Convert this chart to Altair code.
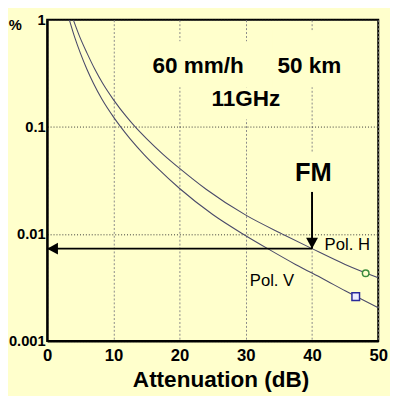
import altair as alt
import pandas as pd

# ---- data ----
h_att = [3.95, 5.0, 6.0, 7.2, 8.4, 10.0, 12.0, 13.3, 15.0, 17.5, 20.0, 24.0, 30.0, 35.8, 40.0, 45.0, 50.0]
h_pct = [1.0, 0.674, 0.491, 0.345, 0.254, 0.18, 0.124, 0.1, 0.0778, 0.0555, 0.041, 0.0262, 0.015, 0.0098, 0.0073, 0.0052, 0.0039]

v_att = [3.35, 4.2, 5.0, 6.0, 7.0, 8.3, 10.0, 11.1, 12.5, 14.6, 16.7, 20.0, 25.0, 29.8, 33.3, 37.5, 41.7, 45.0, 50.0]
v_pct = [1.0, 0.674, 0.491, 0.345, 0.254, 0.18, 0.124, 0.1, 0.0778, 0.0555, 0.041, 0.0266, 0.0152, 0.0098, 0.0073, 0.0052, 0.0038, 0.00295, 0.00205]

x_ticks = [0, 10, 20, 30, 40, 50]
y_ticks = [0.001, 0.01, 0.1, 1]

fm_att = 40
fm_pct = 0.0073
fm_top = 0.0247

marker_h = (48.1, 0.0043)
marker_v = (46.6, 0.0026)

big_texts = ["60 mm/h", "50 km", "11GHz"]
big_att = [22.8, 39.6, 30.0]
big_pct = [0.372, 0.372, 0.182]

fm_text = ["FM"]
fm_text_att = [40.2]
fm_text_pct = [0.0368]

pol_texts = ["Pol. H", "Pol. V"]
pol_att = [41.9, 30.6]
pol_pct = [0.0078, 0.0036]

# boxes behind the annotation texts (hide grid lines)
box_a = [15.5, 34.0, 24.0, 36.5]
box_a2 = [31.5, 45.5, 36.5, 43.5]
box_p = [0.63, 0.79, 0.234, 0.0573]
box_p2 = [0.234, 0.234, 0.117, 0.0247]

BG = "#FFFFCC"
FONT = "Liberation Sans"

# ---- tables ----
curves = pd.concat([
    pd.DataFrame({"a": h_att, "p": h_pct, "s": "H"}),
    pd.DataFrame({"a": v_att, "p": v_pct, "s": "V"}),
])
boxes = pd.DataFrame({"a": box_a, "a2": box_a2, "p": box_p, "p2": box_p2})
arrows = pd.DataFrame({"a": [fm_att, fm_att], "a2": [fm_att, 0],
                       "p": [fm_top, fm_pct], "p2": [fm_pct, fm_pct]})
head_down = pd.DataFrame({"a": [fm_att], "p": [fm_pct]})
head_left = pd.DataFrame({"a": [0], "p": [fm_pct]})
mk_h = pd.DataFrame({"a": [marker_h[0]], "p": [marker_h[1]]})
mk_v = pd.DataFrame({"a": [marker_v[0]], "p": [marker_v[1]]})
t_big = pd.DataFrame({"a": big_att, "p": big_pct, "t": big_texts})
t_fm = pd.DataFrame({"a": fm_text_att, "p": fm_text_pct, "t": fm_text})
t_pol = pd.DataFrame({"a": pol_att, "p": pol_pct, "t": pol_texts})

xs = alt.Scale(domain=[0, 50], nice=False, zero=False)
ys = alt.Scale(type="log", domain=[0.001, 1], nice=False)

xaxis = alt.Axis(values=x_ticks, title="Attenuation (dB)", grid=True,
                 gridColor="#888888", gridDash=[2, 2], gridWidth=1,
                 ticks=False, domainColor="black", domainWidth=2,
                 labelFont=FONT, labelFontSize=17, labelFontWeight="bold",
                 labelColor="black", labelPadding=7, labelFlush=False,
                 labelOverlap=False,
                 titleFont=FONT, titleFontSize=23, titleFontWeight="bold",
                 titleColor="black", titleX=177, titleY=46,
                 titleBaseline="alphabetic", titleAlign="center")
yaxis = alt.Axis(values=y_ticks, format="~g", title="%", grid=True,
                 gridColor="#333333", gridDash=[1, 2], gridWidth=1,
                 ticks=False, domainColor="black", domainWidth=2,
                 labelFont=FONT, labelFontSize=15, labelFontWeight="bold",
                 labelColor="black", labelPadding=2, labelFlush=False,
                 labelOverlap=False, labelBaseline="middle",
                 titleFont=FONT, titleFontSize=15, titleFontWeight="bold",
                 titleColor="black", titleAngle=0, titleX=-33, titleY=5,
                 titleBaseline="middle", titleAlign="center")

X = alt.X("a:Q", scale=xs, axis=xaxis)
Y = alt.Y("p:Q", scale=ys, axis=yaxis)

lay_boxes = alt.Chart(boxes).mark_rect(fill=BG).encode(
    x=X, x2="a2:Q", y=Y, y2="p2:Q")

lay_curves = alt.Chart(curves).mark_line(
    color="#4a4a6a", strokeWidth=1.1, interpolate="monotone", clip=True
).encode(x=X, y=Y, detail="s:N")

lay_arrows = alt.Chart(arrows).mark_rule(color="black", strokeWidth=2).encode(
    x=X, x2="a2:Q", y=Y, y2="p2:Q")

lay_hd = alt.Chart(head_down).mark_point(
    shape="M0,0 L-1.1,-2 L1.1,-2 Z", filled=True, color="black",
    opacity=1, size=121).encode(x=X, y=Y)
lay_hl = alt.Chart(head_left).mark_point(
    shape="M0,0 L2,-1.1 L2,1.1 Z", filled=True, color="black",
    opacity=1, size=121).encode(x=X, y=Y)

lay_mh = alt.Chart(mk_h).mark_point(
    shape="circle", filled=False, stroke="#3c8c3c", fill=BG, fillOpacity=1,
    strokeWidth=1.5, size=45, opacity=1).encode(x=X, y=Y)
lay_mv = alt.Chart(mk_v).mark_point(
    shape="square", filled=False, stroke="#2a2a9a", fill="#eeeeff",
    fillOpacity=1, strokeWidth=1.5, size=60, opacity=1).encode(x=X, y=Y)

lay_big = alt.Chart(t_big).mark_text(
    font=FONT, fontSize=23, fontWeight="bold", color="black",
    align="center", baseline="middle").encode(x=X, y=Y, text="t:N")
lay_fm = alt.Chart(t_fm).mark_text(
    font=FONT, fontSize=26, fontWeight="bold", color="black",
    align="center", baseline="middle").encode(x=X, y=Y, text="t:N")
lay_pol = alt.Chart(t_pol).mark_text(
    font=FONT, fontSize=17, fontWeight="normal", color="black",
    align="left", baseline="middle").encode(x=X, y=Y, text="t:N")

chart = alt.layer(
    lay_boxes, lay_curves, lay_arrows, lay_hd, lay_hl, lay_mh, lay_mv,
    lay_big, lay_fm, lay_pol
).properties(
    width=338, height=328,
    autosize=alt.AutoSizeParams(type="none"),
    padding={"left": 40, "top": 8, "right": 12, "bottom": 52},
    background=BG,
).configure_view(stroke="black", strokeWidth=2, fill=BG)

chart.save("out.html", embed_options={"renderer": "svg", "actions": False})
